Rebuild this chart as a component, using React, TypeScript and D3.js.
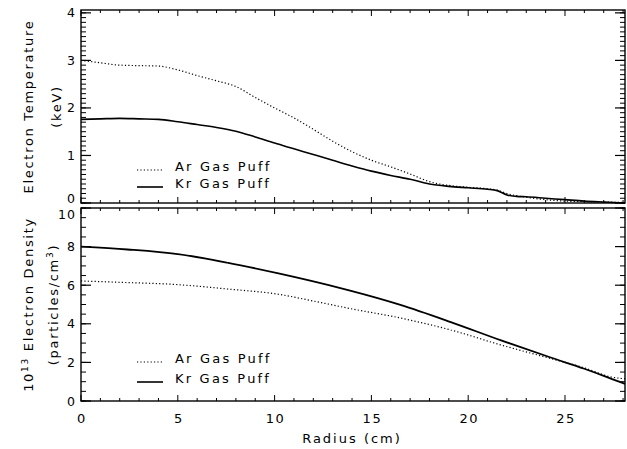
import React from "react";
import * as d3 from "d3";

// Radius grid (cm) and electron temperature (keV)
const arTeR = [0, 1, 2, 3, 4, 5, 6, 7, 8, 9, 10, 11, 12, 13, 14, 15, 16, 17, 18, 18.5, 19, 20, 21, 21.5, 22, 23, 24, 25, 26, 27, 28.1];
const arTe = [3.0, 2.95, 2.9, 2.89, 2.88, 2.8, 2.68, 2.57, 2.45, 2.22, 2.0, 1.79, 1.55, 1.3, 1.08, 0.9, 0.76, 0.61, 0.45, 0.4, 0.37, 0.33, 0.3, 0.27, 0.2, 0.12, 0.07, 0.04, 0.03, 0.02, 0.01];
const krTeR = [0, 1, 2, 3, 4, 5, 6, 7, 8, 9, 10, 11, 12, 13, 14, 15, 16, 17, 18, 19, 20, 21, 21.5, 22, 22.5, 23, 24, 25, 26, 27, 28.1];
const krTe = [1.76, 1.77, 1.78, 1.77, 1.76, 1.71, 1.65, 1.59, 1.51, 1.39, 1.26, 1.14, 1.02, 0.9, 0.78, 0.67, 0.58, 0.5, 0.4, 0.35, 0.32, 0.29, 0.26, 0.17, 0.14, 0.13, 0.1, 0.07, 0.04, 0.02, 0.0];

// Electron density (10^13 particles/cm^3)
const arNeR = [0, 2, 5, 7.6, 10.2, 12, 13.9, 16.5, 19.1, 21.7, 24.3, 26, 27.4, 28.1];
const arNe = [6.22, 6.15, 6.03, 5.8, 5.53, 5.18, 4.79, 4.3, 3.68, 2.9, 2.19, 1.72, 1.24, 1.15];
const krNeR = [0, 2.4, 5, 7.6, 10.2, 12.8, 13.9, 16.5, 19.1, 21.7, 24.3, 26, 27.4, 28.1];
const krNe = [8.0, 7.85, 7.61, 7.16, 6.61, 6.0, 5.72, 4.98, 4.09, 3.14, 2.24, 1.67, 1.15, 0.89];

const xTicks = [0, 5, 10, 15, 20, 25];
const teTicks = [0, 1, 2, 3, 4];
const neTicks = [0, 2, 4, 6, 8, 10];
const legendLabels = ["Ar Gas Puff", "Kr Gas Puff"];

const W = 627;
const H = 449;
const FONT = "DejaVu Sans, sans-serif";

const x = d3.scaleLinear().domain([0, 28.1]).range([81, 625]);
const yTe = d3.scaleLinear().domain([0, 4.06]).range([203, 10]);
const yNe = d3.scaleLinear().domain([0, 10]).range([401, 208]);

function Panel({ y, major, minor, showX, labelShift }: { y: d3.ScaleLinear<number, number>; major: number[]; minor: number[]; showX: boolean; labelShift: (v: number) => number }) {
  const [y0, y1] = y.range();
  const [x0, x1] = x.range();
  const xMinor = d3.range(0, 28.1, 1);
  return (
    <g>
      <rect x={x0} y={y1} width={x1 - x0} height={y0 - y1} fill="none" stroke="#000" strokeWidth={1.4} />
      {xMinor.map((v) => {
        const len = v % 5 === 0 ? 6 : 3;
        return (
          <g key={"xt" + v}>
            <line x1={x(v)} x2={x(v)} y1={y0} y2={y0 - len} stroke="#000" strokeWidth={1} />
            <line x1={x(v)} x2={x(v)} y1={y1} y2={y1 + len} stroke="#000" strokeWidth={1} />
          </g>
        );
      })}
      {minor.map((v, i) => (
        <g key={"ym" + i}>
          <line x1={x0} x2={x0 + 5} y1={y(v)} y2={y(v)} stroke="#000" strokeWidth={1} />
          <line x1={x1} x2={x1 - 5} y1={y(v)} y2={y(v)} stroke="#000" strokeWidth={1} />
        </g>
      ))}
      {major.map((v) => (
        <g key={"yM" + v}>
          <line x1={x0} x2={x0 + 10} y1={y(v)} y2={y(v)} stroke="#000" strokeWidth={1.2} />
          <line x1={x1} x2={x1 - 10} y1={y(v)} y2={y(v)} stroke="#000" strokeWidth={1.2} />
          <text x={76} y={y(v) + labelShift(v)} dy="0.36em" textAnchor="end" fontFamily={FONT} fontSize={12.5} letterSpacing={1}>
            {v}
          </text>
        </g>
      ))}
      {showX &&
        xTicks.map((v) => (
          <text key={"xl" + v} x={x(v) + 1} y={423} textAnchor="middle" fontFamily={FONT} fontSize={13} letterSpacing={1.5}>
            {v}
          </text>
        ))}
    </g>
  );
}

function Legend({ top, gap }: { top: number; gap: number }) {
  return (
    <g fontFamily={FONT} fontSize={13} letterSpacing={2.2}>
      <line x1={137} x2={163} y1={top - 1} y2={top - 1} stroke="#000" strokeWidth={1.2} strokeDasharray="1.2 2.2" />
      <text x={175} y={top}>{legendLabels[0]}</text>
      <line x1={137} x2={163} y1={top + gap - 1} y2={top + gap - 1} stroke="#000" strokeWidth={1.6} />
      <text x={175} y={top + gap}>{legendLabels[1]}</text>
    </g>
  );
}

function curvePath(rs: number[], vs: number[], y: d3.ScaleLinear<number, number>) {
  const gen = d3
    .line<number>()
    .x((_, i) => x(rs[i]))
    .y((v) => y(v))
    .curve(d3.curveMonotoneX);
  return gen(vs) || "";
}

export default function App() {
  const teMinor = d3.range(0, 4.05, 0.1);
  const neMinor = d3.range(0, 10.01, 0.5);
  return (
    <svg width={W} height={H} style={{ position: "absolute", left: 0, top: 0, background: "#fff" }}>
      <rect x={0} y={0} width={W} height={H} fill="#fff" />
      <Panel y={yTe} major={teTicks} minor={teMinor} showX={false} labelShift={(v) => (v === 0 ? -5 : 0)} />
      <Panel y={yNe} major={neTicks} minor={neMinor} showX={true} labelShift={(v) => (v === 10 ? 6 : 0)} />

      <path d={curvePath(arTeR, arTe, yTe)} fill="none" stroke="#000" strokeWidth={1.2} strokeDasharray="1.2 2.2" />
      <path d={curvePath(krTeR, krTe, yTe)} fill="none" stroke="#000" strokeWidth={1.6} />
      <path d={curvePath(arNeR, arNe, yNe)} fill="none" stroke="#000" strokeWidth={1.2} strokeDasharray="1.2 2.2" />
      <path d={curvePath(krNeR, krNe, yNe)} fill="none" stroke="#000" strokeWidth={1.8} />

      <Legend top={171} gap={17} />
      <Legend top={363} gap={20} />

      <g fontFamily={FONT} fontSize={13} letterSpacing={1.7} textAnchor="middle">
        <text transform={`translate(33,${(yTe.range()[0] + yTe.range()[1]) / 2}) rotate(-90)`}>Electron Temperature</text>
        <text transform={`translate(61,${(yTe.range()[0] + yTe.range()[1]) / 2}) rotate(-90)`}>(keV)</text>
        <text transform={`translate(33,${(yNe.range()[0] + yNe.range()[1]) / 2}) rotate(-90)`}>
          10<tspan dy="-5" fontSize={9}>13</tspan>
          <tspan dy="5"> Electron Density</tspan>
        </text>
        <text transform={`translate(58,${(yNe.range()[0] + yNe.range()[1]) / 2}) rotate(-90)`}>
          (particles/cm<tspan dy="-5" fontSize={9}>3</tspan>
          <tspan dy="5">)</tspan>
        </text>
        <text x={352} y={443} letterSpacing={2}>Radius (cm)</text>
      </g>
    </svg>
  );
}
